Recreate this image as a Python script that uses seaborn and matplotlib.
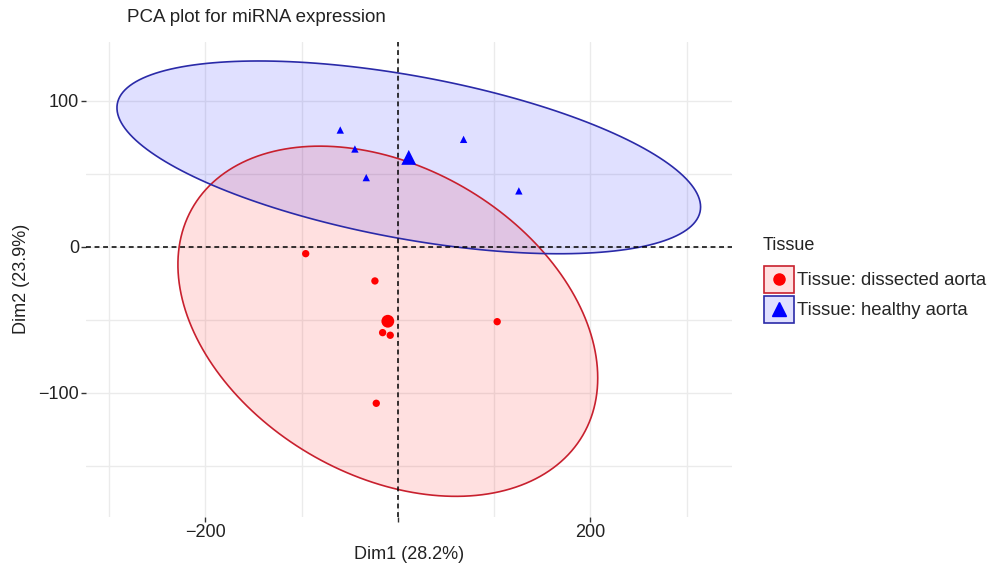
import numpy as np
import pandas as pd
import matplotlib
matplotlib.use("Agg")
import matplotlib.pyplot as plt
import seaborn as sns
from matplotlib.patches import Polygon, Rectangle
from matplotlib.lines import Line2D
from matplotlib.legend_handler import HandlerBase

# individual PCA coordinates
dissected_dim1 = [-95.8, -23.9, -15.9, -8.0, 103.1, -22.5]
dissected_dim2 = [-4.8, -23.5, -58.9, -60.7, -51.4, -107.3]
healthy_dim1 = [-59.9, -44.7, -32.9, 68.2, 125.6]
healthy_dim2 = [79.9, 66.9, 47.3, 73.5, 38.2]

groups = ["dissected aorta", "healthy aorta"]
group_colors = {"dissected aorta": "#FF0000", "healthy aorta": "#0000FF"}
edge_colors = {"dissected aorta": "#C8202E", "healthy aorta": "#2A2AA8"}
group_markers = {"dissected aorta": "o", "healthy aorta": "^"}

x_ticks = [-200, 0, 200]
x_tick_labels = ["\u2212200", "", "200"]
y_ticks = [-100, 0, 100]
y_tick_labels = ["\u2212100", "0", "100"]

df = pd.DataFrame({
    "Dim1": dissected_dim1 + healthy_dim1,
    "Dim2": dissected_dim2 + healthy_dim2,
    "Tissue": [groups[0]] * len(dissected_dim1) + [groups[1]] * len(healthy_dim1),
})

FS = 13


def norm_ellipse(xs, ys, level=0.95, npts=200):
    """Normal-theory ellipse like ggplot's stat_ellipse(type='norm')."""
    xs = np.asarray(xs)
    ys = np.asarray(ys)
    n = len(xs)
    cov = np.cov(xs, ys)
    dfd = n - 1
    # quantile of F(2, dfd)
    q = dfd / 2.0 * ((1 - level) ** (-2.0 / dfd) - 1)
    radius = np.sqrt(2 * q)
    t = np.linspace(0, 2 * np.pi, npts)
    circle = np.column_stack([np.cos(t), np.sin(t)])
    L = np.linalg.cholesky(cov)
    return np.array([xs.mean(), ys.mean()]) + radius * circle @ L.T


class LegendKey:
    def __init__(self, group):
        self.group = group


class BoxKeyHandler(HandlerBase):
    # filled square with coloured frame and the group marker in the middle
    def create_artists(self, legend, orig_handle, xdescent, ydescent, width, height,
                       fontsize, trans):
        g = orig_handle.group
        x0, y0 = -xdescent, -ydescent
        fill = Rectangle((x0, y0), width, height, facecolor=group_colors[g], alpha=0.12,
                         edgecolor="none", transform=trans)
        frame = Rectangle((x0, y0), width, height, facecolor="none",
                          edgecolor=edge_colors[g], linewidth=1.2, transform=trans)
        mk = Line2D([x0 + width / 2], [y0 + height / 2], marker=group_markers[g],
                    color=group_colors[g], linestyle="none",
                    markersize=8 if g == groups[0] else 9.5, transform=trans)
        return [fill, frame, mk]


sns.set_theme(style="whitegrid")
plt.rcParams["font.family"] = ["Liberation Sans", "DejaVu Sans"]

fig = plt.figure(figsize=(9.95, 5.71), dpi=100)
ax = fig.add_axes([86 / 995, 1 - 516.7 / 571, (732 - 86) / 995, (516.7 - 41.7) / 571])
ax.set_facecolor("white")

for g in groups:
    sub = df[df["Tissue"] == g]
    pts = norm_ellipse(sub["Dim1"], sub["Dim2"])
    ax.add_patch(Polygon(pts, closed=True, facecolor=group_colors[g], alpha=0.12,
                         edgecolor="none", zorder=2))
    ax.add_patch(Polygon(pts, closed=True, facecolor="none", edgecolor=edge_colors[g],
                         linewidth=1.2, zorder=2.1))

ax.axhline(0, color="black", linestyle=(0, (3.2, 2.4)), linewidth=1.1, zorder=3)
ax.axvline(0, color="black", linestyle=(0, (3.2, 2.4)), linewidth=1.1, zorder=3)

sns.scatterplot(data=df, x="Dim1", y="Dim2", hue="Tissue", style="Tissue",
                palette=group_colors, markers=group_markers, s=28,
                edgecolor="none", legend=False, ax=ax, zorder=4)

# group centroids
means = df.groupby("Tissue")[["Dim1", "Dim2"]].mean()
for g in groups:
    ax.scatter(means.loc[g, "Dim1"], means.loc[g, "Dim2"], s=115 if g == groups[1] else 85,
               marker=group_markers[g], color=group_colors[g], edgecolor="none", zorder=5)

ax.set_xlim(-324, 347)
ax.set_ylim(-185, 140.4)
ax.set_xticks(x_ticks)
ax.set_xticklabels(x_tick_labels)
ax.set_yticks(y_ticks)
ax.set_yticklabels(y_tick_labels)
ax.set_xticks([-300, -100, 100, 300], minor=True)
ax.set_yticks([-150, -50, 50], minor=True)
ax.grid(which="both", color="#EBEBEB", linewidth=1.0)
ax.set_axisbelow(True)
for s in ax.spines.values():
    s.set_visible(False)
ax.tick_params(which="major", length=3.5, width=1, color="#333333", bottom=True, left=True,
               labelsize=FS, labelcolor="#222222", pad=1.5)
ax.tick_params(which="minor", length=0)

ax.set_xlabel("Dim1 (28.2%)", fontsize=FS, color="#222222", labelpad=4)
ax.set_ylabel("Dim2 (23.9%)", fontsize=FS, color="#222222", labelpad=6)

fig.text(127 / 995, 1 - 17 / 571, "PCA plot for miRNA expression", fontsize=FS + 0.5,
         color="#222222", ha="left", va="center")

# legend title placed on its own, keys below it
fig.text(763 / 995, 1 - 245 / 571, "Tissue", fontsize=FS, color="#222222",
         ha="left", va="center")
leg = fig.legend([LegendKey(g) for g in groups], ["Tissue: " + g for g in groups],
                 handler_map={LegendKey: BoxKeyHandler()},
                 loc="upper left", bbox_to_anchor=(760 / 995, 1 - 262 / 571),
                 frameon=False, fontsize=FS + 0.3,
                 handlelength=1.65, handleheight=1.9, handletextpad=0.15,
                 labelspacing=0.15, borderaxespad=0, borderpad=0.2)

fig.savefig("out.png", dpi=100)
